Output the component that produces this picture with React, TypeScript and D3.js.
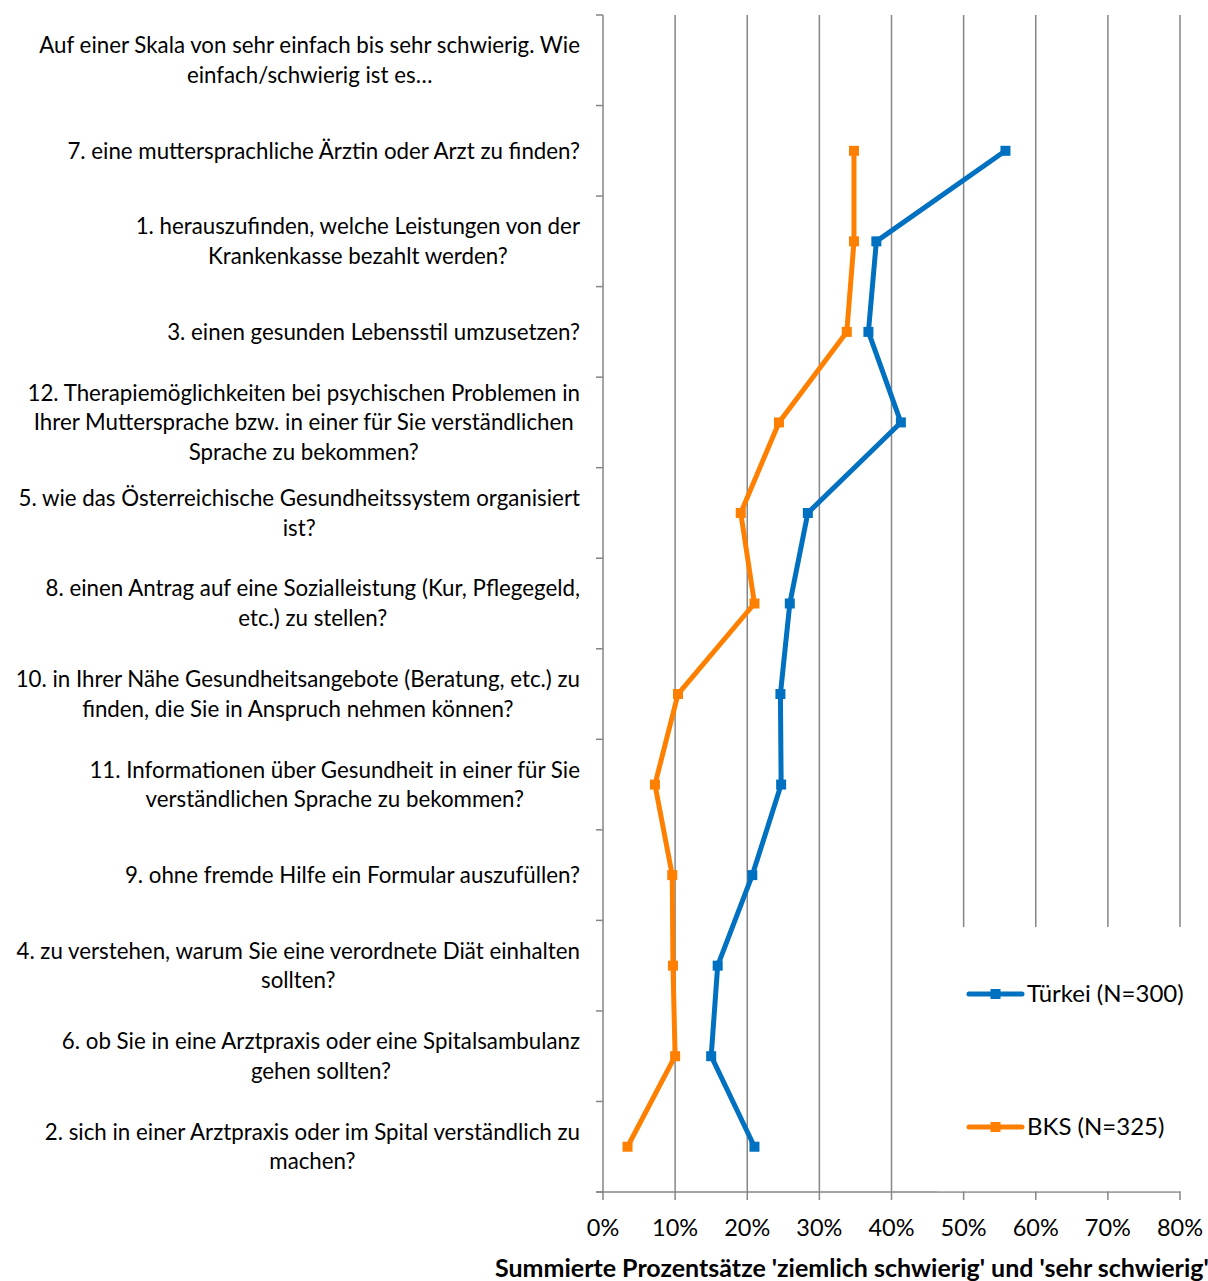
import React, { useEffect, useRef } from "react";
import * as d3 from "d3";

const categories: string[][] = [
  ["Auf einer Skala von sehr einfach bis sehr schwierig. Wie", "einfach/schwierig ist es…"],
  ["7. eine muttersprachliche Ärztin oder Arzt zu finden?"],
  ["1. herauszufinden, welche Leistungen von der", "Krankenkasse bezahlt werden?"],
  ["3. einen gesunden Lebensstil umzusetzen?"],
  ["12. Therapiemöglichkeiten bei psychischen Problemen in", "Ihrer Muttersprache bzw. in einer für Sie verständlichen", "Sprache zu bekommen?"],
  ["5. wie das Österreichische Gesundheitssystem organisiert", "ist?"],
  ["8. einen Antrag auf eine Sozialleistung (Kur, Pflegegeld,", "etc.) zu stellen?"],
  ["10. in Ihrer Nähe Gesundheitsangebote (Beratung, etc.) zu", "finden, die Sie in Anspruch nehmen können?"],
  ["11. Informationen über Gesundheit in einer für Sie", "verständlichen Sprache zu bekommen?"],
  ["9. ohne fremde Hilfe ein Formular auszufüllen?"],
  ["4. zu verstehen, warum Sie eine verordnete Diät einhalten", "sollten?"],
  ["6. ob Sie in eine Arztpraxis oder eine Spitalsambulanz", "gehen sollten?"],
  ["2. sich in einer Arztpraxis oder im Spital verständlich zu", "machen?"],
];

const tuerkei: (number | null)[] = [null, 55.8, 37.9, 36.8, 41.3, 28.4, 25.9, 24.6, 24.7, 20.7, 15.9, 15.0, 21.0];
const bks: (number | null)[] = [null, 34.8, 34.8, 33.8, 24.4, 19.1, 21.0, 10.4, 7.2, 9.6, 9.7, 10.0, 3.4];

const seriesNames = ["Türkei (N=300)", "BKS (N=325)"];
const seriesColors = ["#0070C0", "#FF8000"];
const xTicks = [0, 10, 20, 30, 40, 50, 60, 70, 80];
const axisTitle = "Summierte Prozentsätze 'ziemlich schwierig' und 'sehr schwierig'";

const W = 1208;
const H = 1281;
const FONT = "Lato, 'Open Sans', sans-serif";
const GRID = "#868686";

export default function App() {
  const ref = useRef<SVGSVGElement | null>(null);

  useEffect(() => {
    const svg = d3.select(ref.current);
    svg.selectAll("*").remove();

    const left = 603, right = 1180, top = 15, bottom = 1192;
    const x = d3.scaleLinear().domain([0, 80]).range([left, right]);
    const idx = categories.map((_, i) => String(i));
    const y = d3.scaleBand().domain(idx).range([top, bottom]).padding(0);
    const yc = (i: number) => (y(String(i)) as number) + y.bandwidth() / 2;
    const M = 10;

    svg.append("g")
      .selectAll("line")
      .data(xTicks.slice(1))
      .join("line")
      .attr("x1", (d) => x(d)).attr("x2", (d) => x(d))
      .attr("y1", top).attr("y2", bottom)
      .attr("stroke", GRID).attr("stroke-width", 1.5);

    svg.append("line")
      .attr("x1", left - 7).attr("x2", right).attr("y1", bottom).attr("y2", bottom)
      .attr("stroke", GRID).attr("stroke-width", 1.5);

    svg.append("line")
      .attr("x1", left).attr("x2", left).attr("y1", top).attr("y2", bottom)
      .attr("stroke", GRID).attr("stroke-width", 1.5);

    svg.append("rect")
      .attr("x", 937).attr("y", 927).attr("width", W - 937).attr("height", bottom - 927 - 0.8)
      .attr("fill", "#fff");

    const bounds = idx.map((d) => y(d) as number).concat([bottom]);
    svg.append("g")
      .selectAll("line")
      .data(bounds)
      .join("line")
      .attr("x1", left - 7).attr("x2", left)
      .attr("y1", (d) => d).attr("y2", (d) => d)
      .attr("stroke", GRID).attr("stroke-width", 1.5);

    svg.append("g")
      .selectAll("line")
      .data(xTicks)
      .join("line")
      .attr("x1", (d) => x(d)).attr("x2", (d) => x(d))
      .attr("y1", bottom).attr("y2", bottom + 8)
      .attr("stroke", GRID).attr("stroke-width", 1.5);

    svg.append("g")
      .selectAll("text")
      .data(xTicks)
      .join("text")
      .attr("x", (d) => x(d)).attr("y", 1235.5)
      .attr("text-anchor", "middle")
      .attr("font-family", FONT).attr("font-size", 23.5).attr("fill", "#000")
      .text((d) => `${d}%`);

    svg.append("text")
      .attr("x", 495).attr("y", 1277)
      .attr("font-family", FONT).attr("font-size", 25).attr("font-weight", "bold")
      .attr("fill", "#000")
      .text(axisTitle);

    const lineH = 29.7;
    const labelRight = 580;
    categories.forEach((lines, i) => {
      const g = svg.append("g");
      const texts = lines.map((ln, k) =>
        g.append("text")
          .attr("y", yc(i) + (k - (lines.length - 1) / 2) * lineH + 7.8)
          .attr("text-anchor", "middle")
          .attr("font-family", FONT).attr("font-size", 22.3).attr("fill", "#000")
          .text(ln)
      );
      const widths = texts.map((t) => (t.node() as SVGTextElement).getComputedTextLength());
      const maxW = d3.max(widths) || 0;
      texts.forEach((t) => t.attr("x", labelRight - maxW / 2));
    });

    const allSeries = [tuerkei, bks];
    allSeries.forEach((vals, s) => {
      const line = d3.line<number | null>()
        .defined((d) => d !== null)
        .x((d) => x(d as number))
        .y((_, i) => yc(i));
      svg.append("path")
        .attr("d", line(vals) as string)
        .attr("fill", "none")
        .attr("stroke", seriesColors[s])
        .attr("stroke-width", 5)
        .attr("stroke-linejoin", "round")
        .attr("stroke-linecap", "round");
      svg.append("g")
        .selectAll("rect")
        .data(vals.map((v, i) => ({ v, i })).filter((d) => d.v !== null))
        .join("rect")
        .attr("x", (d) => x(d.v as number) - M / 2)
        .attr("y", (d) => yc(d.i) - M / 2)
        .attr("width", M).attr("height", M)
        .attr("fill", seriesColors[s]);
    });

    const legendY = [994, 1127];
    seriesNames.forEach((name, s) => {
      svg.append("line")
        .attr("x1", 969).attr("x2", 1022)
        .attr("y1", legendY[s]).attr("y2", legendY[s])
        .attr("stroke", seriesColors[s]).attr("stroke-width", 5)
        .attr("stroke-linecap", "round");
      svg.append("rect")
        .attr("x", 995.5 - M / 2).attr("y", legendY[s] - M / 2)
        .attr("width", M).attr("height", M)
        .attr("fill", seriesColors[s]);
      svg.append("text")
        .attr("x", 1027).attr("y", legendY[s] + 8.3)
        .attr("font-family", FONT).attr("font-size", 24).attr("fill", "#000")
        .text(name);
    });
  }, []);

  return (
    <svg
      ref={ref}
      width={W}
      height={H}
      style={{ position: "absolute", left: 0, top: 0, background: "#fff" }}
    />
  );
}
